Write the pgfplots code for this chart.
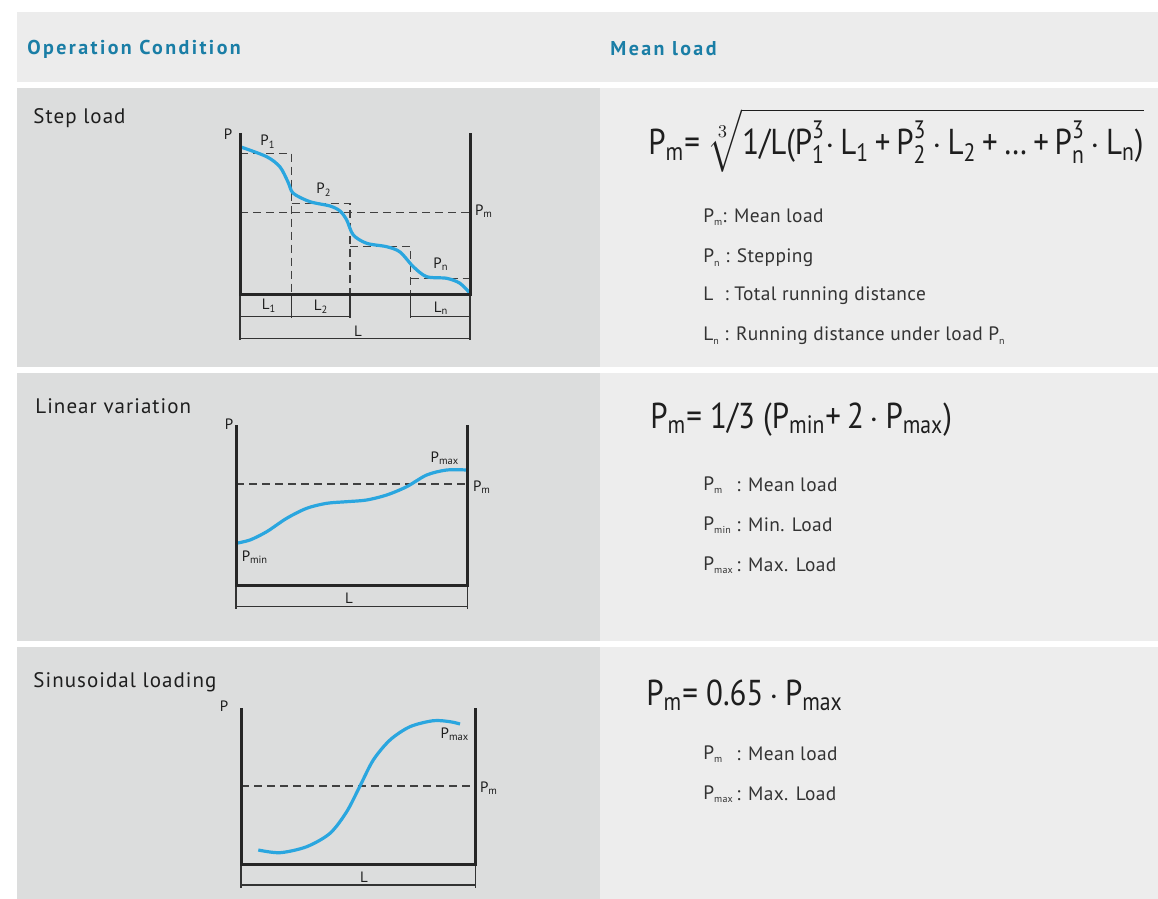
\documentclass[border=0pt]{standalone}
\usepackage{pgfplots}
\pgfplotsset{compat=1.18}
\usepackage{amsmath}
\usepackage{fontspec}
\setmainfont{PT Sans}
\newfontfamily\hdrfont[LetterSpace=12]{PT Sans}
\newfontfamily\ttlfont[LetterSpace=5]{PT Sans}
\newfontfamily\condfont[FakeStretch=0.86]{PT Sans}
\newfontfamily\lgdfont[LetterSpace=2]{PT Sans}
\definecolor{hdr}{HTML}{ECECEC}
\definecolor{lc}{HTML}{DCDDDD}
\definecolor{rc}{HTML}{EDEDED}
\definecolor{hblue}{HTML}{1A7EA6}
\definecolor{curve}{HTML}{2AA6DF}
\definecolor{txt}{HTML}{1E1E1E}
\definecolor{lgd}{HTML}{333333}
\newcommand{\sub}[1]{\textsubscript{#1}}
\newcommand{\ssub}[1]{\raisebox{-0.35ex}{\fontsize{5}{5}\selectfont #1}}
\newcommand{\T}[1]{\text{#1}}
\tikzset{
  frame/.style={black!85, line width=1.5pt, mark=none},
  dim/.style={black!80, line width=0.6pt, mark=none},
  dsh/.style={black!75, line width=0.7pt, dash pattern=on 4pt off 2.5pt, mark=none},
  crv/.style={curve, line width=1.6pt, smooth, mark=none},
  lab/.style={font=\fontsize{7.5}{8}\selectfont, text=txt, inner sep=0pt},
}
\begin{document}
\begin{tikzpicture}
\begin{axis}[scale only axis, width=579pt, height=449.5pt,
  xmin=0, xmax=1158, ymin=0, ymax=899, y dir=reverse,
  hide axis, clip=false]
% backgrounds
\fill[white] (0,0) rectangle (1158,899);
\fill[hdr] (17,12) rectangle (1158,82);
\fill[lc] (17,88) rectangle (600,367);
\fill[rc] (600,88) rectangle (1158,367);
\fill[lc] (17,373) rectangle (600,641);
\fill[rc] (600,373) rectangle (1158,641);
\fill[lc] (17,647) rectangle (600,899);
\fill[rc] (600,647) rectangle (1158,899);
% header
\node[anchor=west, inner sep=0pt, text=hblue, font=\hdrfont\bfseries\fontsize{10}{12}\selectfont] at (27,49) {Operation Condition};
\node[anchor=west, inner sep=0pt, text=hblue, font=\hdrfont\bfseries\fontsize{10}{12}\selectfont] at (610,49) {Mean load};
% row titles
\node[anchor=west, inner sep=0pt, text=txt, font=\ttlfont\fontsize{10.5}{12}\selectfont] at (33,118) {Step load};
\node[anchor=west, inner sep=0pt, text=txt, font=\ttlfont\fontsize{10.5}{12}\selectfont] at (35,406) {Linear variation};
\node[anchor=west, inner sep=0pt, text=txt, font=\ttlfont\fontsize{10.5}{12}\selectfont] at (33,682) {Sinusoidal loading};

% ===== Chart 1: step load =====
\addplot[dsh] coordinates {(240,212.3) (470,212.3)};
\addplot[dsh] coordinates {(240,153.3) (291.7,153.3) (291.7,294)};
\addplot[dsh] coordinates {(291.7,203.3) (350,203.3) (350,294)};
\addplot[dsh] coordinates {(350,246.7) (410.7,246.7) (410.7,294)};
\addplot[dsh] coordinates {(410.7,278.3) (470,278.3)};
\addplot[dim] coordinates {(240,294) (240,340)};
\addplot[dim] coordinates {(470,294) (470,340)};
\addplot[dim] coordinates {(291.7,294) (291.7,318)};
\addplot[dim] coordinates {(350,294) (350,318)};
\addplot[dim] coordinates {(410.7,294) (410.7,318)};
\addplot[dim] coordinates {(240,316.7) (350,316.7)};
\addplot[dim] coordinates {(410.7,316.7) (470,316.7)};
\addplot[dim] coordinates {(240,338.3) (470,338.3)};
\addplot[crv] coordinates {(240,146.7) (266.7,156.7) (280,167) (288,182) (293.3,193.3) (310,201.7) (330,206) (340,211) (346.7,220) (353.3,235) (366.7,243.3) (386.7,246.7) (400,252) (413.3,266.7) (426.7,276.7) (446.7,278.3) (460,283.3) (470,293.3)};
\addplot[frame] coordinates {(240,133) (240,294) (470,294) (470,133)};
\node[lab] at (228,134) {P};
\node[lab] at (268,142) {P\sub{1}};
\node[lab] at (324,190) {P\sub{2}};
\node[lab] at (441,264) {P\sub{n}};
\node[lab] at (484,211) {P\sub{m}};
\node[lab] at (269,306) {L\sub{1}};
\node[lab] at (321,307) {L\sub{2}};
\node[lab] at (441,308) {L\sub{n}};
\node[lab] at (358,331) {L};

% ===== Chart 2: linear variation =====
\addplot[dsh] coordinates {(236,484) (467.7,484)};
\addplot[dim] coordinates {(236,585) (236,609)};
\addplot[dim] coordinates {(467.7,585) (467.7,609)};
\addplot[dim] coordinates {(236,606.7) (467.7,606.7)};
\addplot[crv] coordinates {(236,543.3) (250,540) (266.7,531.7) (286.7,518.3) (306.7,508.3) (326.7,503.3) (346.7,501.7) (366.7,500) (386.7,495) (406.7,486.7) (426.7,475) (446.7,470) (466.7,470)};
\addplot[frame] coordinates {(236,425) (236,585) (467.7,585) (467.7,425)};
\node[lab] at (229,424) {P};
\node[lab] at (445,458) {P\sub{max}};
\node[lab] at (482,487) {P\sub{m}};
\node[lab] at (255,557) {P\sub{min}};
\node[lab] at (349,598) {L};

% ===== Chart 3: sinusoidal =====
\addplot[dsh] coordinates {(241,786) (475.3,786)};
\addplot[dim] coordinates {(241,864) (241,888)};
\addplot[dim] coordinates {(475.3,864) (475.3,888)};
\addplot[dim] coordinates {(241,885) (475.3,885)};
\addplot[crv] coordinates {(258.3,850) (280,852.7) (306.7,846.7) (330,833.3) (346.7,811.7) (360,786) (373.3,760) (390,740) (410,726.7) (433.3,720.7) (450,721.7) (460,724)};
\addplot[frame] coordinates {(241,708) (241,864) (475.3,864) (475.3,708)};
\node[lab] at (224,706) {P};
\node[lab] at (455,734) {P\sub{max}};
\node[lab] at (489,788) {P\sub{m}};
\node[lab] at (364,877) {L};

% ===== Formulas =====
\node[anchor=base west, inner sep=0pt, text=txt, font=\condfont\fontsize{18}{20}\selectfont] at (648,155)
  {P\sub{m}= $\sqrt[3]{\T{1/L(}\T{P}_{\T{1}}^{\T{3}}{\cdot}\,\T{L}_{\T{1}}\,\T{+}\,\T{P}_{\T{2}}^{\T{3}}\,{\cdot}\,\T{L}_{\T{2}}\,\T{+\,\dots\,+}\,\T{P}_{\T{n}}^{\T{3}}\,{\cdot}\,\T{L}_{\T{n}}\T{)}}$};
\begin{scope}[every node/.style={anchor=west, inner sep=0pt, text=lgd, font=\lgdfont\fontsize{9.7}{11}\selectfont}]
\node at (703,217) {P\ssub{m}: Mean load};
\node at (703,258) {P\ssub{n} : Stepping};
\node at (703,296) {L\ \ : Total running distance};
\node at (703,336) {L\ssub{n} : Running distance under load P\ssub{n}};
\node at (703,485) {P\ssub{m}};
\node at (703,525) {P\ssub{min}};
\node at (703,565) {P\ssub{max}};
\node at (736,485) {: Mean load};
\node at (736,525) {: Min. Load};
\node at (736,565) {: Max. Load};
\node at (703,754) {P\ssub{m}};
\node at (703,794) {P\ssub{max}};
\node at (736,754) {: Mean load};
\node at (736,794) {: Max. Load};
\end{scope}
\node[anchor=base west, inner sep=0pt, text=txt, font=\condfont\fontsize{18}{20}\selectfont] at (650,428)
  {P\sub{m}= 1/3 (P\sub{min}+\,2\,$\cdot$\,P\sub{max})};
\node[anchor=base west, inner sep=0pt, text=txt, font=\condfont\fontsize{18}{20}\selectfont] at (646,705)
  {P\sub{m}= 0.65\,$\cdot$\,P\sub{max}};
\end{axis}
\end{tikzpicture}
\end{document}
